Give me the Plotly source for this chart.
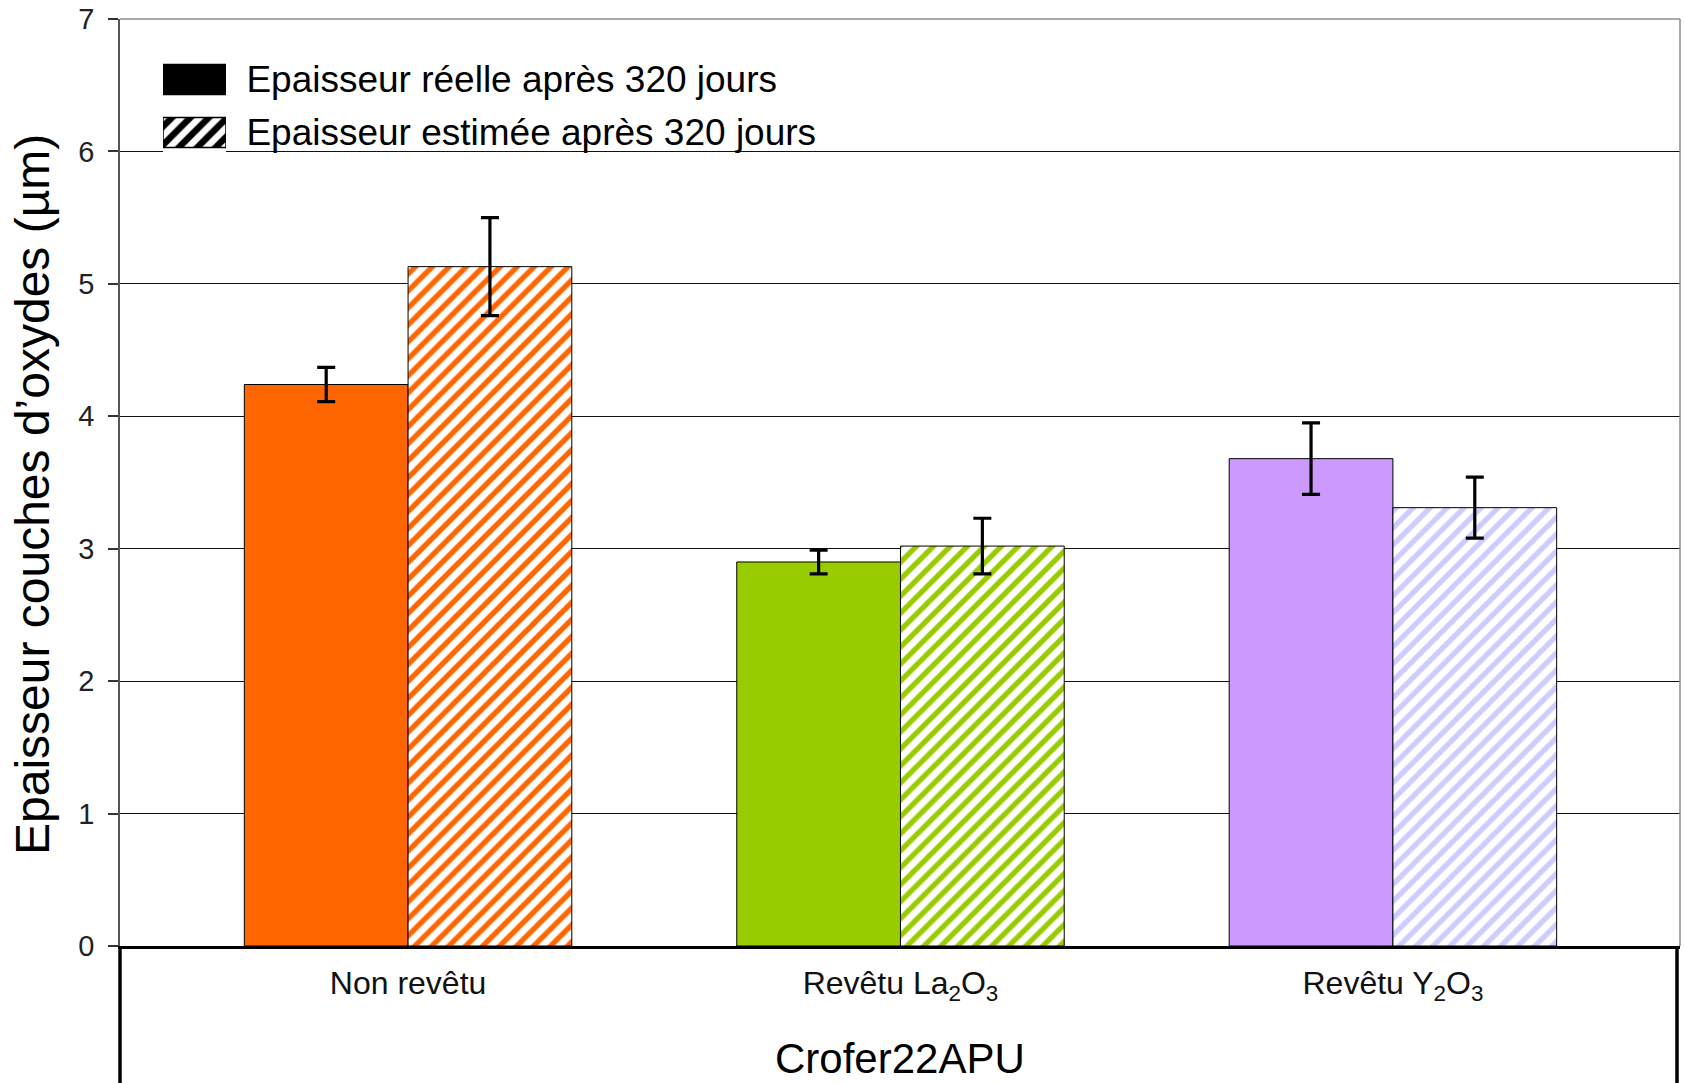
import plotly.graph_objects as go

# Oxide layer thickness on Crofer22APU after 320 days
categories = ["Non revêtu", "Revêtu La<sub>2</sub>O<sub>3</sub>", "Revêtu Y<sub>2</sub>O<sub>3</sub>"]
series_names = ["Epaisseur réelle après 320 jours", "Epaisseur estimée après 320 jours"]

measured = [4.24, 2.90, 3.68]
measured_err = [0.13, 0.09, 0.27]
estimated = [5.13, 3.02, 3.31]
estimated_err = [0.37, 0.21, 0.23]

solid_colors = ["#FF6600", "#99CC00", "#CC99FF"]
hatch_colors = ["#FF6600", "#99CC00", "#CCCCFF"]

y_ticks = [0, 1, 2, 3, 4, 5, 6, 7]
y_title = "Epaisseur couches d’oxydes (µm)"
group_title = "Crofer22APU"

FONT = "Arial, Liberation Sans, sans-serif"
W, H = 1684, 1083
ML, MR, MT, MB = 120, 4, 19, 137
PW, PH = W - ML - MR, H - MT - MB

fig = go.Figure()

fig.add_trace(go.Bar(
    x=categories, y=measured, name=series_names[0], showlegend=False,
    marker=dict(color=solid_colors, line=dict(color="black", width=1)),
    error_y=dict(type="data", array=measured_err, color="black", thickness=3.2, width=9),
))
fig.add_trace(go.Bar(
    x=categories, y=estimated, name=series_names[1], showlegend=False,
    marker=dict(
        color="white",
        line=dict(color="black", width=1),
        pattern=dict(shape="/", fgcolor=hatch_colors, bgcolor="white",
                     size=12, solidity=0.45, fillmode="replace"),
    ),
    error_y=dict(type="data", array=estimated_err, color="black", thickness=3.2, width=9),
))

# Legend swatches: a small auxiliary axis pair in the top-left corner
def px_x(p):
    return (p - ML) / PW

def px_y(p):
    return (H - MB - p) / PH

SWATCH_W = 0.57
fig.add_trace(go.Bar(
    y=[series_names[0]], x=[1], orientation="h", xaxis="x2", yaxis="y2",
    showlegend=False, width=SWATCH_W, offset=-SWATCH_W / 2, hoverinfo="skip",
    marker=dict(color="black", line=dict(color="black", width=1.5)),
))
fig.add_trace(go.Bar(
    y=[series_names[1]], x=[1], orientation="h", xaxis="x2", yaxis="y2",
    showlegend=False, width=SWATCH_W, offset=-SWATCH_W / 2, hoverinfo="skip",
    marker=dict(
        color="white",
        line=dict(color="black", width=1.5),
        pattern=dict(shape="/", fgcolor=["black"], bgcolor="white",
                     size=13, solidity=0.5, fillmode="replace"),
    ),
))

fig.update_layout(
    width=W, height=H,
    margin=dict(l=ML, r=MR, t=MT, b=MB),
    paper_bgcolor="white", plot_bgcolor="white",
    font=dict(family=FONT, color="black"),
    barmode="group", bargap=0.335, bargroupgap=0,
    showlegend=False,
    xaxis=dict(
        type="category", range=[-0.585, 2.583],
        showline=True, linecolor="black", linewidth=3,
        ticks="", showgrid=False, zeroline=False,
        tickfont=dict(size=32, color="#111111"),
        ticklabelstandoff=7,
    ),
    yaxis=dict(
        range=[0, 7], tickvals=y_ticks,
        showgrid=True, gridcolor="#111111", gridwidth=1,
        zeroline=False,
        showline=True, linecolor="#555555", linewidth=1.5,
        ticks="outside", ticklen=10, tickcolor="#333333", tickwidth=1.5,
        tickfont=dict(size=29, color="#222222"),
        ticklabelstandoff=8,
    ),
    xaxis2=dict(
        domain=[px_x(163), px_x(226)], range=[0, 1], anchor="y2",
        visible=False, fixedrange=True,
    ),
    yaxis2=dict(
        domain=[px_y(159), px_y(53)], range=[1.5, -0.5], anchor="x2",
        type="category", side="right",
        showgrid=False, zeroline=False, showline=False,
        ticks="outside", ticklen=12, tickcolor="rgba(0,0,0,0)",
        tickfont=dict(size=37, color="black"),
        fixedrange=True,
    ),
)

# Plot-area frame (top and right) and the category box under the axis
fig.add_shape(type="line", xref="paper", yref="paper", x0=0, x1=1, y0=1, y1=1,
              line=dict(color="#8c8c8c", width=1.5), layer="above")
fig.add_shape(type="line", xref="paper", yref="paper", x0=1, x1=1, y0=0, y1=1,
              line=dict(color="#8c8c8c", width=1.5), layer="above")
fig.add_shape(type="line", xref="paper", yref="paper", x0=0, x1=0, y0=0, y1=-0.2,
              line=dict(color="black", width=3.5))
fig.add_shape(type="line", xref="paper", yref="paper",
              x0=px_x(1677), x1=px_x(1677), y0=0, y1=-0.2,
              line=dict(color="black", width=3.5))

fig.add_annotation(text=group_title, xref="x", yref="paper", x=1, y=px_y(1058),
                   showarrow=False, xanchor="center", yanchor="middle",
                   font=dict(size=42, color="black"))
fig.add_annotation(text=y_title, xref="paper", yref="paper",
                   x=px_x(32), y=px_y(495), textangle=-90,
                   showarrow=False, xanchor="center", yanchor="middle",
                   font=dict(size=48, color="black"))

fig.write_html("out.html")
